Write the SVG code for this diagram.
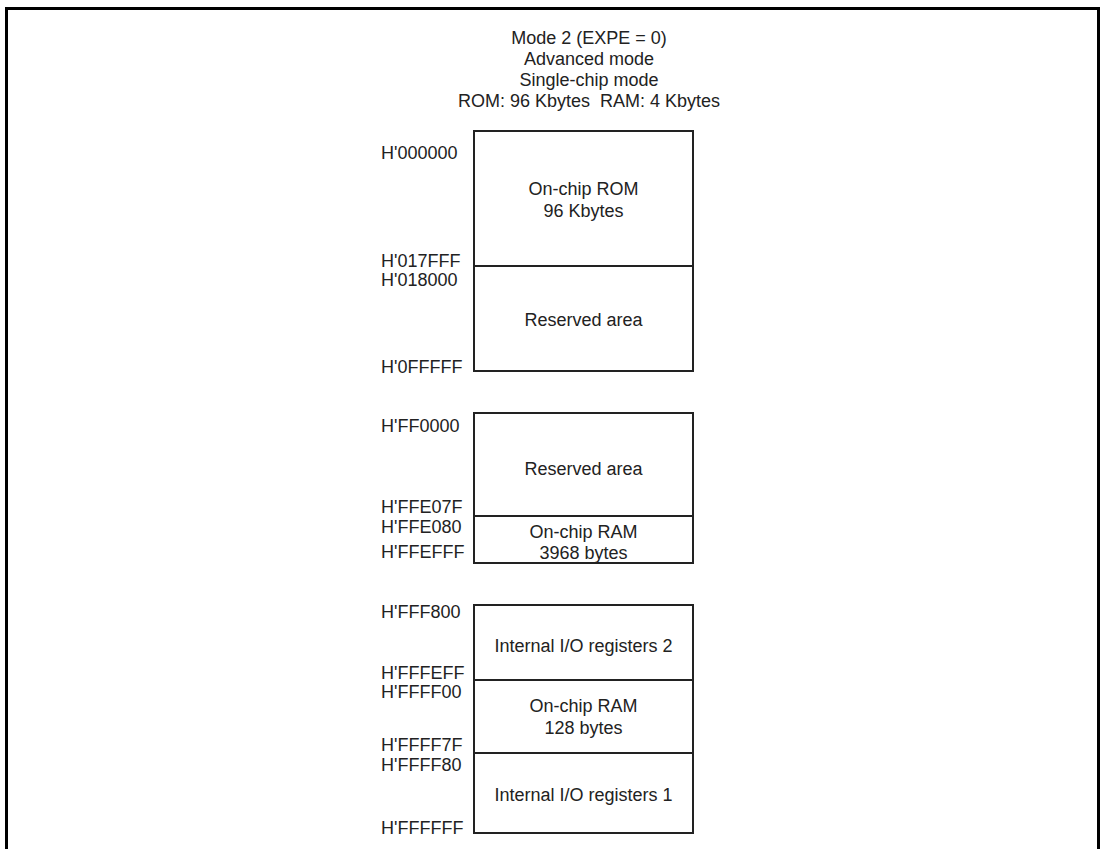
<svg xmlns="http://www.w3.org/2000/svg" width="1102" height="849" viewBox="0 0 1102 849">
<style>
text{font-family:"Liberation Sans",Arial,sans-serif;font-size:18px;fill:#222}
.c{text-anchor:middle}
.box{fill:none;stroke:#222;stroke-width:2}
.frame{fill:none;stroke:#000;stroke-width:3}
</style>
<rect width="1102" height="849" fill="#fff"/>
<path class="frame" d="M6.5,849 V8.5 H1098.5 V849"/>
<g id="title">
<text class="c" x="589" y="43.5">Mode 2 (EXPE = 0)</text>
<text class="c" x="589" y="64.5">Advanced mode</text>
<text class="c" x="589" y="85.5">Single-chip mode</text>
<text class="c" x="589" y="106.5" xml:space="preserve">ROM: 96 Kbytes  RAM: 4 Kbytes</text>
</g>
<g id="rom">
<rect class="box" x="474" y="131" width="219" height="135"/>
<text class="c" x="583.5" y="195">On-chip ROM</text>
<text class="c" x="583.5" y="217">96 Kbytes</text>
</g>
<g id="reserved1">
<rect class="box" x="474" y="266" width="219" height="105"/>
<text class="c" x="583.5" y="326">Reserved area</text>
</g>
<g id="reserved2">
<rect class="box" x="474" y="413" width="219" height="103"/>
<text class="c" x="583.5" y="475">Reserved area</text>
</g>
<g id="ram1">
<rect class="box" x="474" y="516" width="219" height="47"/>
<text class="c" x="583.5" y="538">On-chip RAM</text>
<text class="c" x="583.5" y="559">3968 bytes</text>
</g>
<g id="io2">
<rect class="box" x="474" y="605" width="219" height="75"/>
<text class="c" x="583.5" y="651.5">Internal I/O registers 2</text>
</g>
<g id="ram2">
<rect class="box" x="474" y="680" width="219" height="73"/>
<text class="c" x="583.5" y="711.5">On-chip RAM</text>
<text class="c" x="583.5" y="734">128 bytes</text>
</g>
<g id="io1">
<rect class="box" x="474" y="753" width="219" height="80"/>
<text class="c" x="583.5" y="801">Internal I/O registers 1</text>
</g>
<g id="addresses">
<text x="381" y="159">H'000000</text>
<text x="381" y="267">H'017FFF</text>
<text x="381" y="286">H'018000</text>
<text x="381" y="373">H'0FFFFF</text>
<text x="381" y="432">H'FF0000</text>
<text x="381" y="512.5">H'FFE07F</text>
<text x="381" y="533">H'FFE080</text>
<text x="381" y="558">H'FFEFFF</text>
<text x="381" y="617.5">H'FFF800</text>
<text x="381" y="679">H'FFFEFF</text>
<text x="381" y="698">H'FFFF00</text>
<text x="381" y="751">H'FFFF7F</text>
<text x="381" y="771">H'FFFF80</text>
<text x="381" y="834">H'FFFFFF</text>
</g>
</svg>
